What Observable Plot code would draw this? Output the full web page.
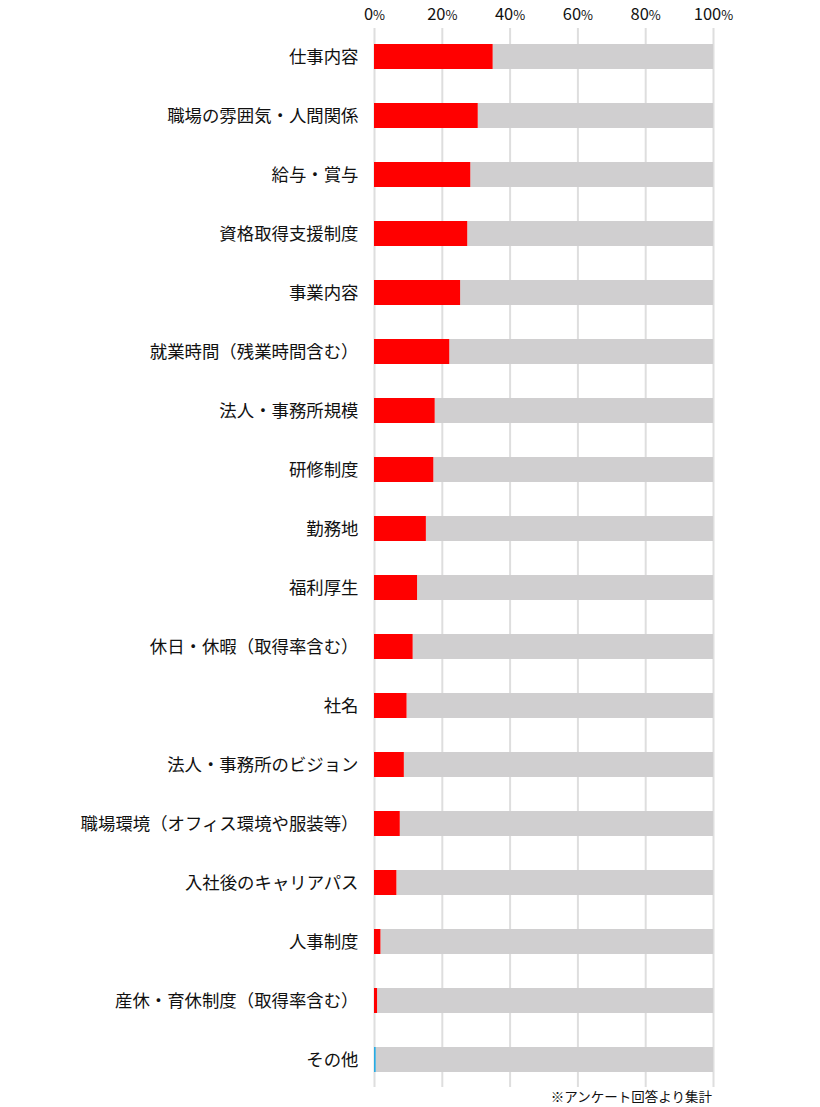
<!DOCTYPE html>
<html>
<head>
<meta charset="utf-8">
<script src="https://cdn.jsdelivr.net/npm/d3@7"></script>
<script src="https://cdn.jsdelivr.net/npm/@observablehq/plot@0.6"></script>
<style>
  html, body { margin: 0; padding: 0; background: #fff; }
  body { width: 820px; font-family: "Noto Sans CJK JP", "Noto Sans", sans-serif; }
  #chart svg { display: block; }
  #caption { width: 820px; box-sizing: border-box; padding-right: 108px; margin-top: -1px; text-align: right; font-size: 13.5px; line-height: 14px; color: #111; }
</style>
</head>
<body>
<div id="chart"></div>
<div id="caption">※アンケート回答より集計</div>
<script>
const categories = [
  "仕事内容",
  "職場の雰囲気・人間関係",
  "給与・賞与",
  "資格取得支援制度",
  "事業内容",
  "就業時間（残業時間含む）",
  "法人・事務所規模",
  "研修制度",
  "勤務地",
  "福利厚生",
  "休日・休暇（取得率含む）",
  "社名",
  "法人・事務所のビジョン",
  "職場環境（オフィス環境や服装等）",
  "入社後のキャリアパス",
  "人事制度",
  "産休・育休制度（取得率含む）",
  "その他"
];
const values = [35.0, 30.6, 28.4, 27.5, 25.4, 22.2, 17.9, 17.5, 15.3, 12.7, 11.4, 9.6, 8.8, 7.6, 6.6, 1.9, 0.9, 0.5];
const xTicks = [0, 20, 40, 60, 80, 100];
const otherLabel = "その他";

const data = categories.map((c, i) => ({category: c, value: values[i]}));

const chart = Plot.plot({
  width: 820,
  height: 1090,
  marginLeft: 374,
  marginRight: 107,
  marginTop: 28,
  marginBottom: 3,
  style: {fontFamily: "'Noto Sans CJK JP', 'Noto Sans', sans-serif", color: "#111", background: "#fff"},
  x: {domain: [0, 100]},
  y: {domain: categories, paddingInner: 0.58, paddingOuter: 0.25},
  marks: [
    Plot.gridX(xTicks, {stroke: "#dedede", strokeOpacity: 1, strokeWidth: 2}),
    Plot.barX(data, {y: "category", x1: "value", x2: 100, fill: "#d0cfd0"}),
    Plot.barX(data, {y: "category", x1: 0, x2: "value", fill: d => d.category === otherLabel ? "#29abe2" : "#ff0000"}),
    Plot.axisX(xTicks, {anchor: "top", tickSize: 0, tickPadding: 9, fontSize: 16.5, tickFormat: d => d + "%", label: null}),
    Plot.axisY({tickSize: 0, tickPadding: 16, fontSize: 17.4, label: null})
  ]
});
document.getElementById("chart").appendChild(chart);

// render "%" in a smaller size, as in the reference
chart.querySelectorAll('g[aria-label="x-axis tick label"] text').forEach(t => {
  const s = t.textContent;
  if (s.endsWith("%")) {
    t.textContent = s.slice(0, -1);
    const ts = document.createElementNS("http://www.w3.org/2000/svg", "tspan");
    ts.setAttribute("font-size", "13");
    ts.textContent = "%";
    t.appendChild(ts);
  }
});
</script>
</body>
</html>
